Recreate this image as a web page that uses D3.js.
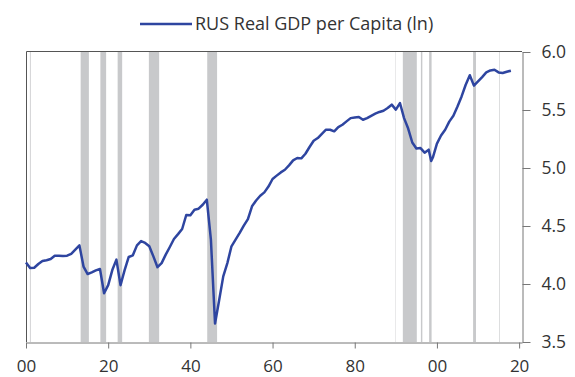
<!DOCTYPE html>
<html>
<head>
<meta charset="utf-8">
<script src="https://cdn.jsdelivr.net/npm/d3@7"></script>
<style>
  html, body { margin: 0; padding: 0; background: #fff; }
  svg text { font-family: "Open Sans", "Segoe UI", sans-serif; fill: #333; }
</style>
</head>
<body>
<svg id="chart" width="575" height="377"></svg>
<script>
// Annual real GDP per capita, natural log
const years = [
  1900, 1901, 1902, 1903, 1904, 1905, 1906, 1907, 1908, 1909,
  1910, 1911, 1912, 1913, 1914, 1915, 1916, 1917, 1918, 1919,
  1920, 1921, 1922, 1923, 1924, 1925, 1926, 1927, 1928, 1929,
  1930, 1931, 1932, 1933, 1934, 1935, 1936, 1937, 1938, 1939,
  1940, 1941, 1942, 1943, 1944, 1945, 1946, 1947, 1948, 1949,
  1950, 1951, 1952, 1953, 1954, 1955, 1956, 1957, 1958, 1959,
  1960, 1961, 1962, 1963, 1964, 1965, 1966, 1967, 1968, 1969,
  1970, 1971, 1972, 1973, 1974, 1975, 1976, 1977, 1978, 1979,
  1980, 1981, 1982, 1983, 1984, 1985, 1986, 1987, 1988, 1989,
  1990, 1991, 1992, 1993, 1994, 1995, 1996, 1997, 1998, 1998.6,
  1999, 2000, 2001, 2002, 2003, 2004, 2005, 2006, 2007, 2008,
  2009, 2010, 2011, 2012, 2013, 2014, 2015, 2016, 2017, 2018
];
const gdpLn = [
  4.186, 4.138, 4.140, 4.172, 4.198, 4.205, 4.215, 4.243, 4.244, 4.242,
  4.244, 4.260, 4.296, 4.333, 4.150, 4.086, 4.100, 4.117, 4.129, 3.920,
  3.990, 4.120, 4.210, 3.990, 4.120, 4.233, 4.247, 4.333, 4.370, 4.354,
  4.325, 4.238, 4.145, 4.180, 4.253, 4.319, 4.388, 4.430, 4.474, 4.595,
  4.592, 4.640, 4.649, 4.683, 4.727, 4.380, 3.660, 3.860, 4.066, 4.180,
  4.325, 4.382, 4.440, 4.503, 4.560, 4.670, 4.720, 4.761, 4.790, 4.840,
  4.905, 4.934, 4.962, 4.985, 5.023, 5.066, 5.086, 5.083, 5.123, 5.181,
  5.235, 5.258, 5.295, 5.330, 5.330, 5.316, 5.353, 5.373, 5.402, 5.430,
  5.436, 5.440, 5.416, 5.430, 5.450, 5.468, 5.483, 5.494, 5.517, 5.546,
  5.503, 5.560, 5.430, 5.340, 5.220, 5.168, 5.172, 5.132, 5.158, 5.060,
  5.090, 5.210, 5.280, 5.330, 5.400, 5.450, 5.530, 5.617, 5.718, 5.800,
  5.710, 5.747, 5.784, 5.824, 5.841, 5.847, 5.824, 5.819, 5.830, 5.839
];

// Shaded contraction periods [start, end] in years
const recessionStart = [1900.95, 1913.3, 1918.1, 1922.3, 1929.9, 1944.1, 1989.85, 1991.7, 1996.1, 1998.1, 2008.8, 2015.15];
const recessionEnd   = [1901.15, 1915.3, 1919.5, 1923.4, 1932.4, 1946.5, 1989.95, 1995.1, 1996.45, 1998.7, 2009.5, 2015.3];

const xTicks = [1900, 1920, 1940, 1960, 1980, 2000, 2020];
const yTicks = [3.5, 4.0, 4.5, 5.0, 5.5, 6.0];
const seriesName = "RUS Real GDP per Capita (ln)";

const svg = d3.select("#chart");
const plotLeft = 26, plotRight = 522, plotTop = 52, plotBottom = 342;
const lineColor = "#2e45a0";

const x = d3.scaleLinear().domain([1900, 2020.7]).range([plotLeft, plotRight]);
const y = d3.scaleLinear().domain([3.5, 6.0]).range([plotBottom, plotTop]);

// recession shading
svg.append("g").selectAll("rect")
  .data(recessionStart.map((s, i) => [s, recessionEnd[i]]))
  .join("rect")
  .attr("x", d => x(d[0]))
  .attr("width", d => x(d[1]) - x(d[0]))
  .attr("y", plotTop)
  .attr("height", plotBottom - plotTop)
  .attr("fill", "#c8c9cb");

// frame (top and left edges)
svg.append("path")
  .attr("d", `M${plotLeft + 0.5},${plotBottom}V${plotTop - 0.5}H${plotRight}`)
  .attr("fill", "none")
  .attr("stroke", "#555")
  .attr("stroke-width", 1);

// bottom axis
const xAxis = svg.append("g")
  .attr("transform", `translate(0,${plotBottom + 0.5})`)
  .call(d3.axisBottom(x)
    .tickValues(xTicks)
    .tickSize(6)
    .tickPadding(11)
    .tickSizeOuter(0)
    .tickFormat(d => String(d % 100).padStart(2, "0")));
xAxis.select(".domain").attr("stroke", "#777");
xAxis.selectAll(".tick line").attr("stroke", "#777");
xAxis.selectAll("text").attr("font-size", 17).attr("fill", "#333");

// right axis
const yAxis = svg.append("g")
  .attr("transform", `translate(${plotRight + 0.5},0)`)
  .call(d3.axisRight(y)
    .tickValues(yTicks)
    .tickSize(8)
    .tickPadding(11)
    .tickSizeOuter(0)
    .tickFormat(d3.format(".1f")));
yAxis.select(".domain").attr("stroke", "#777");
yAxis.selectAll(".tick line").attr("stroke", "#777");
yAxis.selectAll("text").attr("font-size", 17.5).attr("fill", "#333");

// series line
const line = d3.line()
  .x((d, i) => x(years[i]))
  .y(d => y(d));
svg.append("path")
  .datum(gdpLn)
  .attr("d", line)
  .attr("fill", "none")
  .attr("stroke", lineColor)
  .attr("stroke-width", 2.5)
  .attr("stroke-linejoin", "round");

// legend
const legend = svg.append("g");
legend.append("line")
  .attr("x1", 140).attr("x2", 192)
  .attr("y1", 24).attr("y2", 24)
  .attr("stroke", lineColor)
  .attr("stroke-width", 2.5);
legend.append("text")
  .attr("x", 195).attr("y", 30)
  .attr("font-size", 18)
  .text(seriesName);
</script>
</body>
</html>
